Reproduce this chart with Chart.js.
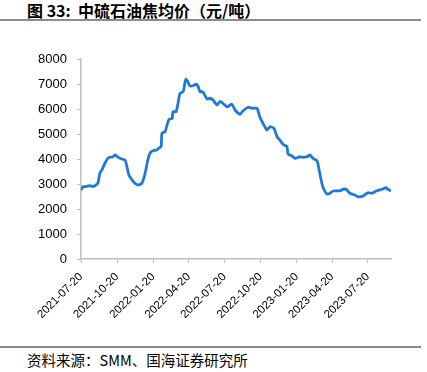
<!DOCTYPE html>
<html>
<head>
<meta charset="utf-8">
<script src="https://cdn.jsdelivr.net/npm/chart.js@4"></script>
<style>
  body { margin: 0; width: 427px; height: 372px; background: #fff; position: relative; overflow: hidden; font-family: "Liberation Sans", Arial, sans-serif; }
  .title { position: absolute; left: 27px; top: -2px; font: bold 16px "Noto Sans CJK SC", sans-serif; color: #000; }
  .rule { position: absolute; left: 0; width: 421px; height: 2px; background: #8c8c8c; }
  .src { position: absolute; left: 27px; top: 349px; font: 14.5px "Noto Sans CJK SC", sans-serif; color: #000; }
  #wrap { position: absolute; left: 0; top: 40px; width: 427px; height: 300px; }
</style>
</head>
<body>
<div class="title">图 33:&nbsp; 中硫石油焦均价（元/吨）</div>
<div class="rule" style="top:19px"></div>
<div id="wrap"><canvas id="c" width="427" height="300"></canvas></div>
<div class="rule" style="top:346px"></div>
<div class="src">资料来源：SMM、国海证券研究所</div>
<script>
// 中硫石油焦均价 读图数据
const dates = [
  '2021-07-20','2021-07-25','2021-08-02','2021-08-12','2021-08-20','2021-08-27','2021-09-01','2021-09-06',
  '2021-09-11','2021-09-19','2021-09-27','2021-10-09','2021-10-15','2021-10-22','2021-11-01','2021-11-09',
  '2021-11-14','2021-11-19','2021-11-27','2021-12-04','2021-12-12','2021-12-22','2021-12-27','2022-01-01',
  '2022-01-06','2022-01-12','2022-01-19','2022-01-29','2022-02-03','2022-02-09','2022-02-11','2022-02-19',
  '2022-02-24','2022-03-01','2022-03-09','2022-03-11','2022-03-19','2022-03-24','2022-03-29','2022-04-06',
  '2022-04-11','2022-04-13','2022-04-18','2022-04-23','2022-05-01','2022-05-09','2022-05-14','2022-05-19',
  '2022-05-26','2022-06-06','2022-06-13','2022-06-21','2022-07-01','2022-07-09','2022-07-16','2022-07-27',
  '2022-08-08','2022-08-16','2022-08-29','2022-09-05','2022-09-18','2022-09-28','2022-10-11','2022-10-18',
  '2022-10-26','2022-11-05','2022-11-13','2022-11-23','2022-12-01','2022-12-08','2022-12-16','2022-12-26',
  '2022-12-29','2023-01-08','2023-01-16','2023-01-28','2023-02-05','2023-02-15','2023-02-23','2023-03-02',
  '2023-03-13','2023-03-18','2023-03-25','2023-03-30','2023-04-07','2023-04-15','2023-04-22','2023-05-10',
  '2023-05-20','2023-05-28','2023-06-04','2023-06-17','2023-06-25','2023-07-08','2023-07-20','2023-07-30',
  '2023-08-12','2023-08-25','2023-09-04','2023-09-09','2023-09-17'
];
const prices = [
  2750, 2890, 2900, 2930, 2900, 2960, 3030, 3430,
  3560, 3830, 4040, 4090, 4160, 4070, 4000, 3960,
  3690, 3360, 3160, 3030, 2960, 3030, 3240, 3560,
  3960, 4240, 4330, 4360, 4430, 4500, 5030, 5090,
  5360, 5590, 5630, 5890, 5890, 6230, 6630, 6690,
  7090, 7190, 7090, 6930, 6930, 6990, 6900, 6690,
  6690, 6400, 6430, 6360, 6160, 6300, 6230, 6090,
  6190, 5960, 5790, 5920, 6070, 6030, 6030, 5690,
  5430, 5160, 5290, 5230, 4890, 4760, 4590, 4500,
  4200, 4120, 4030, 4090, 4070, 4090, 4160, 4030,
  3920, 3560, 3030, 2790, 2600, 2630, 2720, 2730,
  2800, 2760, 2630, 2560, 2490, 2520, 2650, 2630,
  2730, 2790, 2850, 2790, 2720
];
const tickDates = ['2021-07-20','2021-10-20','2022-01-20','2022-04-20','2022-07-20',
  '2022-10-20','2023-01-20','2023-04-20','2023-07-20'];

const dayNum = s => Date.parse(s + 'T00:00:00Z') / 86400000;
const points = dates.map((d, i) => ({ x: dayNum(d), y: prices[i] }));
const tickMap = {};
tickDates.forEach(d => { tickMap[dayNum(d)] = d; });

const axisColor = '#bfbfbf';

new Chart(document.getElementById('c'), {
  type: 'line',
  data: {
    datasets: [{
      data: points,
      borderColor: '#1f7ad6',
      borderWidth: 2.8,
      pointRadius: 0,
      tension: 0.2,
      fill: false
    }]
  },
  options: {
    responsive: false,
    animation: false,
    events: [],
    layout: { padding: { top: 19, right: 36, left: 0, bottom: 0 } },
    plugins: { legend: { display: false }, tooltip: { enabled: false } },
    scales: {
      x: {
        type: 'linear',
        min: dayNum(dates[0]),
        max: dayNum(dates[dates.length - 1]),
        afterBuildTicks: s => { s.ticks = tickDates.map(d => ({ value: dayNum(d) })); },
        afterFit: s => { s.height = 81; },
        border: { color: axisColor, width: 1.5 },
        grid: { drawOnChartArea: false, color: axisColor, tickLength: 4 },
        ticks: {
          autoSkip: false,
          maxRotation: 45, minRotation: 45,
          padding: 7,
          color: '#000',
          font: { family: 'Arial, "Liberation Sans", sans-serif', size: 11.5 },
          callback: v => tickMap[v] || ''
        }
      },
      y: {
        min: 0, max: 8000,
        afterFit: s => { s.width = 81; },
        border: { color: axisColor, width: 1.5 },
        grid: { drawOnChartArea: false, color: axisColor, tickLength: 4 },
        ticks: {
          stepSize: 1000,
          padding: 10,
          color: '#000',
          font: { family: 'Arial, "Liberation Sans", sans-serif', size: 13 },
          callback: v => String(v)
        }
      }
    }
  }
});
</script>
</body>
</html>
